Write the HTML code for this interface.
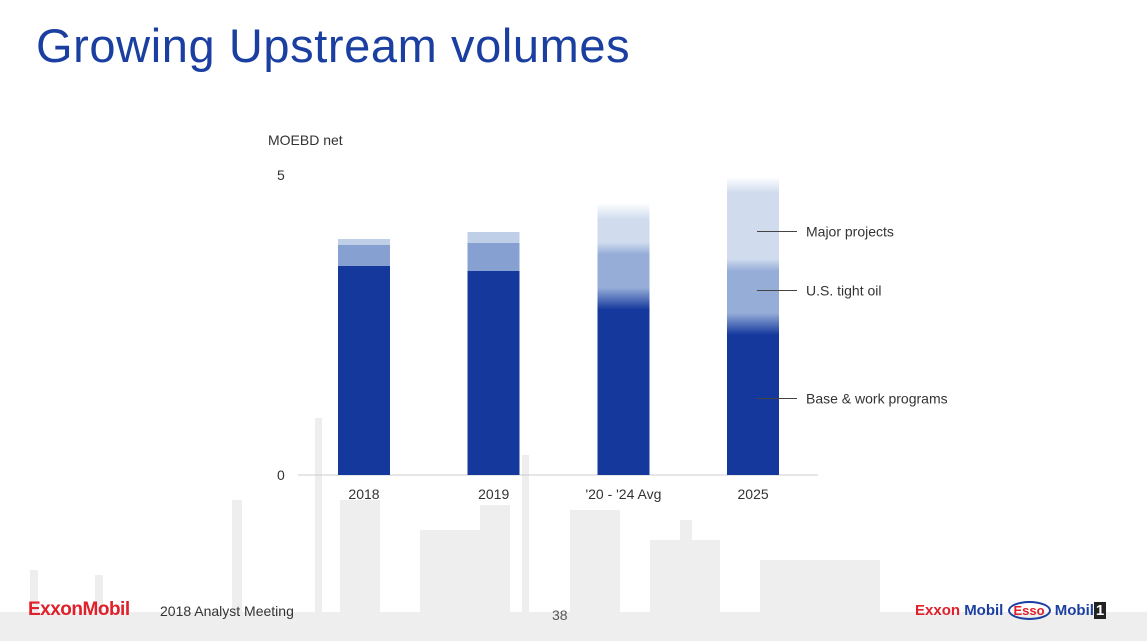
<!DOCTYPE html>
<html><head><meta charset="utf-8"><style>
body{margin:0;width:1147px;height:641px;overflow:hidden;background:#fff;font-family:"Liberation Sans",sans-serif;position:relative}
.t{position:absolute;white-space:nowrap}
</style></head><body>
<svg width="1147" height="641" style="position:absolute;left:0;top:0" id="chart" shape-rendering="crispEdges">
<defs>
<linearGradient id="fadeTop" x1="0" y1="0" x2="0" y2="1"><stop offset="0" stop-color="#fff"/><stop offset="1" stop-color="#fff" stop-opacity="0"/></linearGradient>
<linearGradient id="mt" x1="0" y1="0" x2="0" y2="1"><stop offset="0" stop-color="#d0dcee"/><stop offset="1" stop-color="#96add8"/></linearGradient>
<linearGradient id="tb" x1="0" y1="0" x2="0" y2="1"><stop offset="0" stop-color="#96add8"/><stop offset="1" stop-color="#14389c"/></linearGradient>
</defs>
<g id="bg" fill="#eeeeee">
<rect x="0" y="612" width="1147" height="29"/><rect x="232" y="500" width="10" height="115"/><rect x="315" y="418" width="7" height="195"/><rect x="340" y="500" width="40" height="115"/><rect x="420" y="530" width="60" height="85"/><rect x="480" y="505" width="30" height="110"/><rect x="522" y="455" width="7" height="160"/><rect x="570" y="510" width="50" height="105"/><rect x="650" y="540" width="70" height="75"/><rect x="680" y="520" width="12" height="95"/><rect x="760" y="560" width="120" height="55"/><rect x="30" y="570" width="8" height="45"/><rect x="95" y="575" width="8" height="40"/>
</g>
</svg>
<div class="t" style="left:36px;top:18px;font-size:47px;color:#1a3fa0;letter-spacing:0.6px">Growing Upstream volumes</div>
<div class="t" style="left:268px;top:132px;font-size:14px;color:#333">MOEBD net</div>
<div class="t" style="left:28px;top:599px;font-size:19px;font-weight:bold;color:#e0202a;letter-spacing:-0.5px">ExxonMobil</div>
<div class="t" style="left:160px;top:603px;font-size:14px;color:#333">2018 Analyst Meeting</div>
<div class="t" style="left:552px;top:607px;font-size:14px;color:#555">38</div>
<div class="t" style="left:915px;top:602px;font-size:15px;font-weight:bold"><span style="color:#e0202a">Exxon</span> <span style="color:#1a3fa0">Mobil</span> <span style="color:#e0202a;border:2px solid #1a3fa0;border-radius:50%;padding:0 4px;font-size:13px">Esso</span> <span style="color:#1a3fa0">Mobil</span><span style="background:#222;color:#fff;padding:0 2px">1</span></div>
<script>
const categories=["2018","2019","'20 - '24 Avg","2025"];
const baseVals=[3.48,3.4,2.92,2.5];
const tightVals=[0.35,0.47,0.86,1.0];
const majorVals=[0.1,0.18,0.75,1.47];
const faded=[false,false,true,true];
const yTicks=[0,5];
const legendLabels=["Major projects","U.S. tight oil","Base & work programs"];
const legendAnchors=[4.07,3.08,1.28];
const NS="http://www.w3.org/2000/svg";
const svg=document.getElementById('chart');
const y0=475,pxPer=60,x0=338,step=129.7,bw=52;
const Y=v=>y0-v*pxPer;
const X=i=>x0+i*step;
function el(t,a){const e=document.createElementNS(NS,t);for(const k in a)e.setAttribute(k,a[k]);svg.appendChild(e);return e;}
const ax=el('line',{x1:298,x2:818,y1:y0,y2:y0,stroke:'#ccc'});


yTicks.forEach(t=>{const e=el('text',{x:277,y:Y(t)+5,'font-size':14,fill:'#333'});e.textContent=t;

});
categories.forEach((c,i)=>{
const x=X(i),b=baseVals[i],t=b+tightVals[i],m=t+majorVals[i];
const g=document.createElementNS(NS,'g');svg.appendChild(g);


function r(y1,y2,f){const e=document.createElementNS(NS,'rect');e.setAttribute('x',x);e.setAttribute('width',bw);e.setAttribute('y',y1);e.setAttribute('height',Math.max(0,y2-y1));e.setAttribute('fill',f);g.appendChild(e);}
if(faded[i]){
r(Y(b)+10,y0,'#14389c');r(Y(t)+6,Y(b)-12,'#96add8');r(Y(m),Y(t)-6,'#d0dcee');
r(Y(t)-6,Y(t)+6,'url(#mt)');r(Y(b)-12,Y(b)+10,'url(#tb)');r(Y(m),Y(m)+16,'url(#fadeTop)');
}else{
r(Y(b),y0,'#14389c');r(Y(t),Y(b),'#86a0d2');r(Y(m),Y(t),'#c0cfe8');
}
const lb=el('text',{x:x+bw/2,y:499,'font-size':14,fill:'#333','text-anchor':'middle'});lb.textContent=c;


});
legendLabels.forEach((s,k)=>{const yy=Math.round(Y(legendAnchors[k]))+0.5;
const ln=el('line',{x1:757,x2:797,y1:yy,y2:yy,stroke:'#444','stroke-width':1});


const tx=el('text',{x:806,y:yy+5,'font-size':14,fill:'#333'});tx.textContent=s;

});
</script>
</body></html>
